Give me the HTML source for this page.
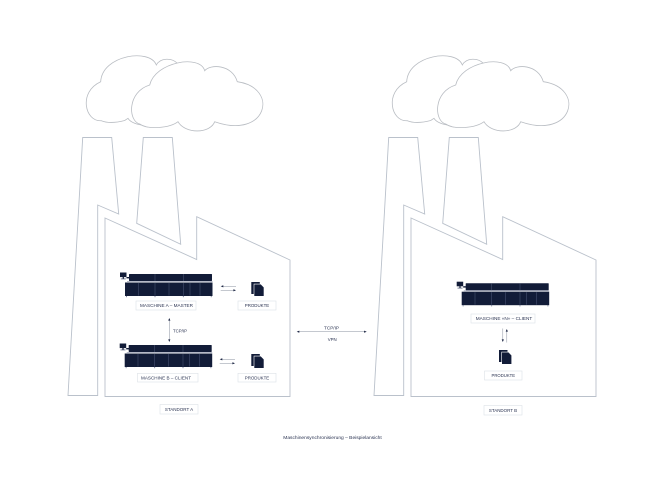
<!DOCTYPE html>
<html>
<head>
<meta charset="utf-8">
<style>
  html,body{margin:0;padding:0;background:#fff;}
  svg{display:block;}
  text{font-family:"Liberation Sans", sans-serif;fill:#2b3452;}
</style>
</head>
<body>
<svg width="655" height="480" viewBox="0 0 655 480" xmlns="http://www.w3.org/2000/svg">
  <rect width="655" height="480" fill="#fff"/>
  <defs>
    <g id="factory">
      <!-- clouds -->
      <path d="M101.3,120.7 C85,122 78,92 100.7,81.7 C102,55 150,48 156.3,65 C160,58 172,57 178,64 L200,80 L190,115 L141.3,125 C136,124 130,122 128,118.3 L124.7,120.5 C115,123 107,123 101.3,120.7 Z" fill="#fff" stroke="#b9bdc3" stroke-width="0.8"/>
      <path d="M139.7,124 C128,121 127,92 149.7,85 C155,62 200,54 204.7,70.7 C210,64 232,64 237.3,81.7 C280,88 267,140 214.7,121.7 C210,134 185,134 178,121.7 C170,128 148,130 139.7,124 Z" fill="#fff" stroke="#b9bdc3" stroke-width="0.8"/>
      <!-- chimney 1 + outer wall -->
      <polygon points="82.7,137.5 111.7,137.5 118.7,214 97.7,205 97.7,395.5 68,395.5" fill="none" stroke="#bac1cb" stroke-width="0.9"/>
      <!-- chimney 2 -->
      <polygon points="143.3,137.5 172.3,137.5 180.7,244.3 136.7,223.3" fill="none" stroke="#bac1cb" stroke-width="0.9"/>
      <!-- building -->
      <polygon points="105,218 196.7,259.5 196.7,216.7 290,260 290,396.5 105,396.5" fill="none" stroke="#bac1cb" stroke-width="0.9"/>
    </g>
    <g id="machine">
      <!-- monitor -->
      <rect x="-5" y="-10" width="6.5" height="4.6" fill="#121c38"/>
      <rect x="-2.4" y="-5.4" width="1.4" height="1.6" fill="#121c38"/>
      <rect x="-4.2" y="-4" width="5" height="0.8" fill="#5b6580"/>
      <rect x="1.5" y="-5.5" width="3" height="1.4" fill="#121c38"/>
      <!-- hood -->
      <rect x="4" y="-8.5" width="83" height="7" rx="0.6" fill="#121c38"/>
      <line x1="30" y1="-8.5" x2="30" y2="-1.5" stroke="#56607e" stroke-width="0.45"/>
      <line x1="58.3" y1="-8.5" x2="58.3" y2="-1.5" stroke="#56607e" stroke-width="0.45"/>
      <line x1="2" y1="-0.8" x2="87.5" y2="-0.8" stroke="#6a7390" stroke-width="0.5"/>
      <!-- body -->
      <rect x="0" y="0" width="87.5" height="13.5" fill="#121c38"/>
      <g stroke="#4f5a7a" stroke-width="0.5">
        <line x1="13.3" y1="0.5" x2="13.3" y2="13"/>
        <line x1="30" y1="0.5" x2="30" y2="13"/>
        <line x1="44" y1="0.5" x2="44" y2="13"/>
        <line x1="58.3" y1="0.5" x2="58.3" y2="13"/>
        <line x1="65" y1="0.5" x2="65" y2="13"/>
        <line x1="75" y1="0.5" x2="75" y2="13"/>
      </g>
      <g fill="#6a7390">
        <rect x="1" y="13.5" width="0.8" height="1.2"/>
        <rect x="29.6" y="13.5" width="0.8" height="1.2"/>
        <rect x="57.9" y="13.5" width="0.8" height="1.2"/>
        <rect x="85.8" y="13.5" width="0.8" height="1.2"/>
      </g>
    </g>
    <g id="doc">
      <rect x="0" y="0" width="8.5" height="12" fill="#121c38"/>
      <polygon points="2.7,2.1 9.5,2.1 12.7,5.3 12.7,14.3 2.7,14.3" fill="#121c38" stroke="#fff" stroke-width="0.6"/>
    </g>
  </defs>

  <use href="#factory"/>
  <use href="#factory" transform="translate(306,0)"/>

  <!-- Machines -->
  <use href="#machine" transform="translate(125,282.5)"/>
  <use href="#machine" transform="translate(124.7,353.5)"/>
  <use href="#machine" transform="translate(461.7,291.7)"/>

  <!-- Documents -->
  <use href="#doc" transform="translate(251.3,282)"/>
  <use href="#doc" transform="translate(251.3,354)"/>
  <use href="#doc" transform="translate(499,350)"/>

  <!-- Labels -->
  <g fill="#fff" stroke="#dde1e6" stroke-width="0.6">
    <rect x="136" y="301" width="60" height="9"/>
    <rect x="238" y="301" width="38" height="9"/>
    <rect x="137.5" y="373.3" width="60.5" height="8.7"/>
    <rect x="238" y="373.3" width="38" height="8.7"/>
    <rect x="471" y="314" width="64" height="9"/>
    <rect x="484.5" y="371" width="37.5" height="9"/>
    <rect x="160" y="404.5" width="38" height="9.5"/>
    <rect x="484" y="405.5" width="38" height="9.5"/>
  </g>
  <g font-size="4.5" text-anchor="middle">
    <text x="166.5" y="307.2" textLength="53" lengthAdjust="spacingAndGlyphs">MASCHINE A – MASTER</text>
    <text x="257" y="307.2" textLength="24.5" lengthAdjust="spacingAndGlyphs">PRODUKTE</text>
    <text x="166" y="379.4" textLength="50" lengthAdjust="spacingAndGlyphs">MASCHINE B – CLIENT</text>
    <text x="257" y="379.4" textLength="24.5" lengthAdjust="spacingAndGlyphs">PRODUKTE</text>
    <text x="504" y="320.2" textLength="56.5" lengthAdjust="spacingAndGlyphs">MASCHINE «N» – CLIENT</text>
    <text x="503.3" y="377.2" textLength="23.5" lengthAdjust="spacingAndGlyphs">PRODUKTE</text>
    <text x="179" y="410.9" textLength="28.3" lengthAdjust="spacingAndGlyphs">STANDORT A</text>
    <text x="503" y="411.9" textLength="28.3" lengthAdjust="spacingAndGlyphs">STANDORT B</text>
    <text x="180" y="332.4" textLength="14" lengthAdjust="spacingAndGlyphs">TCP/IP</text>
    <text x="331.5" y="329.4" textLength="15" lengthAdjust="spacingAndGlyphs">TCP/IP</text>
    <text x="332.2" y="340.8" textLength="9" lengthAdjust="spacingAndGlyphs">VPN</text>
  </g>
  <text x="332.5" y="439.2" font-size="4.8" text-anchor="middle" textLength="98.5" lengthAdjust="spacingAndGlyphs">Maschinensynchronisierung – Beispielansicht</text>

  <!-- Arrows -->
  <g stroke="#8a919f" stroke-width="0.5">
    <line x1="222.5" y1="286.3" x2="236" y2="286.3"/>
    <line x1="220.7" y1="290.3" x2="234.3" y2="290.3"/>
    <line x1="221.5" y1="359.3" x2="235" y2="359.3"/>
    <line x1="219.7" y1="363.3" x2="233.3" y2="363.3"/>
    <line x1="169.3" y1="319.5" x2="169.3" y2="340.5"/>
    <line x1="298.5" y1="331.7" x2="365" y2="331.7"/>
    <line x1="502.8" y1="328.5" x2="502.8" y2="340.5"/>
    <line x1="506.8" y1="330.5" x2="506.8" y2="342.5"/>
  </g>
  <g fill="#1a2442">
    <polygon points="220.7,286.3 223.3,285.2 223.3,287.4"/>
    <polygon points="236,290.3 233.4,289.2 233.4,291.4"/>
    <polygon points="219.7,359.3 222.3,358.2 222.3,360.4"/>
    <polygon points="235,363.3 232.4,362.2 232.4,364.4"/>
    <polygon points="169.3,318 168.2,320.6 170.4,320.6"/>
    <polygon points="169.3,342 168.2,339.4 170.4,339.4"/>
    <polygon points="296.7,331.7 299.3,330.6 299.3,332.8"/>
    <polygon points="366.7,331.7 364.1,330.6 364.1,332.8"/>
    <polygon points="502.8,342 501.7,339.4 503.9,339.4"/>
    <polygon points="506.8,329 505.7,331.6 507.9,331.6"/>
  </g>
</svg>
</body>
</html>
